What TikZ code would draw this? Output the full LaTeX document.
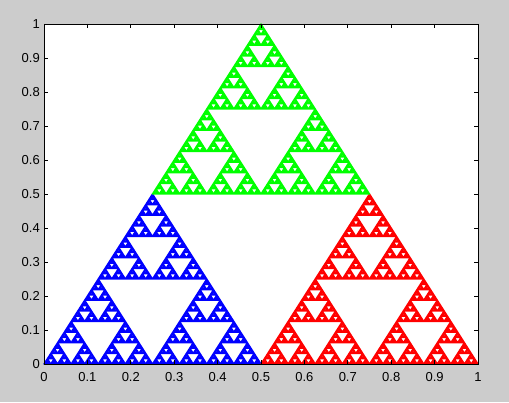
\documentclass[tikz,border=0pt]{standalone}
\usepackage{fontspec}
\setmainfont{Liberation Sans}
\definecolor{figgray}{RGB}{204,204,204}
\definecolor{sblue}{RGB}{0,0,255}
\definecolor{sred}{RGB}{255,0,0}
\definecolor{sgreen}{RGB}{0,255,0}
\makeatletter
\def\sierp#1#2#3#4{%
  \ifnum#4=0
    \pgfpathmoveto{\pgfpointxy{#1}{#2}}%
    \pgfpathlineto{\pgfpointxy{#1+#3}{#2}}%
    \pgfpathlineto{\pgfpointxy{#1+#3/2}{#2+#3}}%
    \pgfpathclose
  \else
    \pgfmathsetmacro\sierph{#3/2}%
    \pgfmathsetmacro\sierpx{#1+\sierph}%
    \pgfmathsetmacro\sierpq{#1+\sierph/2}%
    \pgfmathsetmacro\sierpy{#2+\sierph}%
    \edef\sierpnext{\noexpand\sierp{#1}{#2}{\sierph}{\the\numexpr#4-1\relax}%
      \noexpand\sierp{\sierpx}{#2}{\sierph}{\the\numexpr#4-1\relax}%
      \noexpand\sierp{\sierpq}{\sierpy}{\sierph}{\the\numexpr#4-1\relax}}%
    \expandafter\sierpnext
  \fi}
\makeatother
\newcommand\sierpfill[4]{%
  \begin{pgfscope}
    \pgfsetcolor{#1}\pgfsetlinewidth{1.4pt}\pgfsetroundjoin
    \sierp{#2}{#3}{#4}{6}%
    \pgfusepath{fill,stroke}%
  \end{pgfscope}}
\tikzset{
  ticklab/.style={font=\fontsize{13}{15}\selectfont, inner sep=0pt, text=black},
  tickmark/.style={black, line width=0.8pt}
}
\begin{document}
\begin{tikzpicture}[x=1pt,y=1pt]
\fill[figgray] (0,0) rectangle (509,402);
\useasboundingbox (0,0) rectangle (509,402);
\begin{scope}[shift={(44pt,38pt)}, x=434pt, y=340pt]
  \fill[white] (0,0) rectangle (1,1);
  \sierpfill{sblue}{0}{0}{0.5}
  \sierpfill{sred}{0.5}{0}{0.5}
  \sierpfill{sgreen}{0.25}{0.5}{0.5}
  \draw[tickmark] (0,0) rectangle (1,1);
  \foreach \i in {0,...,10} {
    \pgfmathsetmacro\t{\i/10}
    \draw[tickmark] (\t,0) -- ++(0,4.3pt);
    \draw[tickmark] (\t,1) -- ++(0,-4.3pt);
    \draw[tickmark] (0,\t) -- ++(4.3pt,0);
    \draw[tickmark] (1,\t) -- ++(-4.3pt,0);
    \ifnum\i=0 \def\lab{0}\else\ifnum\i=10 \def\lab{1}\else\edef\lab{0.\i}\fi\fi
    \node[ticklab, anchor=north] (xl\i) at ([yshift=-8pt]\t,0) {\lab};
    \node[ticklab, anchor=east] (yl\i) at ([xshift=-4pt]0,\t) {\lab};
  }
\end{scope}
\end{tikzpicture}
\end{document}
